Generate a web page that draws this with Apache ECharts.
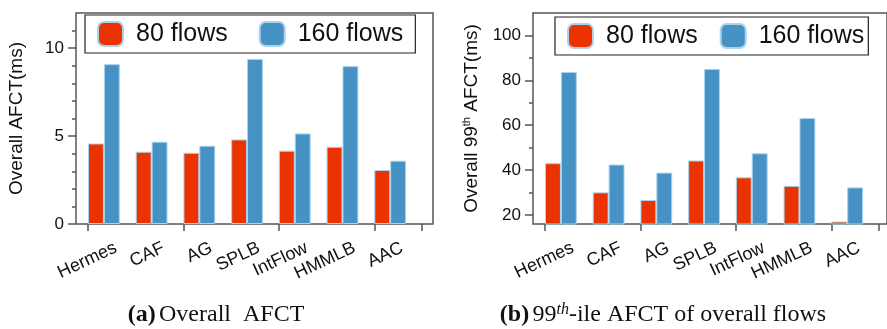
<!DOCTYPE html>
<html>
<head>
<meta charset="utf-8">
<script src="https://cdn.jsdelivr.net/npm/echarts@6/dist/echarts.min.js"></script>
<style>
  html, body { margin: 0; padding: 0; background: #fff; }
  #chart { width: 887px; height: 329px; }
</style>
</head>
<body>
<div id="chart"></div>
<script>
// Load balancing schemes compared in both panels
const categories = ['Hermes', 'CAF', 'AG', 'SPLB', 'IntFlow', 'HMMLB', 'AAC'];
const seriesNames = ['80 flows', '160 flows'];

// (a) overall average flow completion time, ms
const afct80 = [4.58, 4.11, 4.05, 4.81, 4.17, 4.39, 3.07];
const afct160 = [9.09, 4.68, 4.45, 9.39, 5.15, 8.98, 3.60];

// (b) 99th percentile flow completion time, ms
const p99Afct80 = [43.1, 30.1, 26.7, 44.3, 36.8, 33.0, 17.1];
const p99Afct160 = [83.7, 42.5, 38.9, 85.1, 47.5, 63.2, 32.3];

// Axis ticks
const afctLabelTicks = [0, 5, 10];
const afctMinorTicks = [0, 1, 2, 3, 4, 5, 6, 7, 8, 9, 10, 11];
const p99LabelTicks = [20, 40, 60, 80, 100];
const p99MinorTicks = [20, 30, 40, 50, 60, 70, 80, 90, 100];

const RED = '#ea3300';
const BLUE = '#4692c5';
const EDGE = '#abd3ec';
const AXIS = '#555555';
const SANS = '"Liberation Sans", Arial, Helvetica, sans-serif';
const SERIF = '"Liberation Serif", "Times New Roman", serif';

const chart = echarts.init(document.getElementById('chart'), null, { renderer: 'canvas' });

function frameGrid(left) {
  return { left: left, top: 13, width: 357, height: 211, show: true,
           borderColor: AXIS, borderWidth: 1.5, backgroundColor: 'transparent' };
}
function bandGrid(left) {
  return { left: left, top: 13, width: 334, height: 211, show: false };
}
function hiddenX(gridIndex) {
  return { type: 'value', gridIndex: gridIndex, show: false, min: 0, max: 1 };
}
function hiddenY(gridIndex) {
  return { type: 'value', gridIndex: gridIndex, show: false, min: 0, max: 1 };
}
// category axis carrying the bars and the band boundary ticks
function categoryX(gridIndex) {
  return {
    type: 'category', gridIndex: gridIndex, data: categories, boundaryGap: true,
    axisLine: { show: false },
    axisTick: { show: true, length: 7, alignWithLabel: false, lineStyle: { color: AXIS, width: 1.5 } },
    axisLabel: { show: false },
    splitLine: { show: false }
  };
}
// category axis that only writes the slanted scheme names
function nameX(gridIndex) {
  return {
    type: 'category', gridIndex: gridIndex, data: categories, boundaryGap: true,
    axisLine: { show: false }, axisTick: { show: false },
    axisLabel: { rotate: 25, fontSize: 18, fontFamily: SANS, color: '#111', margin: 23, interval: 0 },
    splitLine: { show: false }
  };
}
function labelY(gridIndex, min, max, ticks, name) {
  return {
    type: 'value', gridIndex: gridIndex, min: min, max: max, position: 'left',
    axisLine: { show: false },
    axisTick: { show: true, length: 8, customValues: ticks, lineStyle: { color: AXIS, width: 1.5 } },
    axisLabel: { customValues: ticks, fontSize: 17, fontFamily: SANS, color: '#111', margin: 12 },
    splitLine: { show: false },
    name: name, nameLocation: 'middle', nameRotate: 90, nameGap: 50,
    nameTextStyle: {
      fontFamily: SANS, fontSize: 19, color: '#111',
      rich: {
        a: { fontFamily: SANS, fontSize: 19, color: '#111', lineHeight: 22 },
        s: { fontFamily: SANS, fontSize: 11, color: '#111', lineHeight: 11, verticalAlign: 'top' }
      }
    }
  };
}
function minorY(gridIndex, min, max, ticks) {
  return {
    type: 'value', gridIndex: gridIndex, min: min, max: max, position: 'left', offset: 12,
    axisLine: { show: false },
    axisTick: { show: true, length: 4, customValues: ticks, lineStyle: { color: AXIS, width: 1.5 } },
    axisLabel: { show: false },
    splitLine: { show: false }
  };
}
function bars(name, color, values, axisIndex) {
  return {
    type: 'bar', name: name, data: values,
    xAxisIndex: axisIndex, yAxisIndex: axisIndex,
    barGap: '0%', barCategoryGap: '0%',
    itemStyle: { color: color, borderColor: EDGE, borderWidth: 1 },
    emphasis: { disabled: true }, animation: false
  };
}
// empty third slot so that each bar pair sits on the left of its category band
function slot(axisIndex) {
  return { type: 'bar', name: 'slot', data: [], xAxisIndex: axisIndex, yAxisIndex: axisIndex,
           barGap: '0%', barCategoryGap: '0%', animation: false, silent: true };
}
function legend(left, top, pad, gap) {
  return {
    data: seriesNames, left: left, top: top, orient: 'horizontal',
    padding: pad, itemGap: gap, itemWidth: 25, itemHeight: 24, icon: 'roundRect',
    borderColor: '#222', borderWidth: 1.2, backgroundColor: '#fff',
    selectedMode: false,
    textStyle: { fontFamily: SANS, fontSize: 25, color: '#111', lineHeight: 24, padding: [0, 0, 0, 8] }
  };
}

const option = {
  animation: false,
  backgroundColor: '#fff',
  grid: [frameGrid(76), bandGrid(88), frameGrid(533), bandGrid(545), bandGrid(92), bandGrid(549)],
  xAxis: [hiddenX(0), categoryX(1), hiddenX(2), categoryX(3), nameX(4), nameX(5)],
  yAxis: [
    labelY(0, 0, 12, afctLabelTicks, 'Overall AFCT(ms)'),
    minorY(1, 0, 12, afctMinorTicks),
    labelY(2, 16, 110, p99LabelTicks, '{a|Overall 99}{s|th}{a| AFCT(ms)}'),
    minorY(3, 16, 110, p99MinorTicks),
    hiddenY(4),
    hiddenY(5)
  ],
  legend: [legend(85, 15, [6, 12, 6, 12], 31), legend(555, 17, [6, 4, 6, 12], 22)],
  series: [
    bars(seriesNames[0], RED, afct80, 1),
    bars(seriesNames[1], BLUE, afct160, 1),
    slot(1),
    bars(seriesNames[0], RED, p99Afct80, 3),
    bars(seriesNames[1], BLUE, p99Afct160, 3),
    slot(3)
  ],
  graphic: [
    {
      type: 'text', x: 216, y: 315,
      style: {
        text: '{b|(a)} {n|Overall  AFCT}', align: 'center', verticalAlign: 'middle',
        rich: {
          b: { fontFamily: SERIF, fontSize: 24, fontWeight: 'bold', fill: '#111' },
          n: { fontFamily: SERIF, fontSize: 24, fill: '#111' }
        }
      }
    },
    {
      type: 'text', x: 663, y: 315,
      style: {
        text: '{b|(b)} {n|99}{i|th}{n|-ile AFCT of overall flows}', align: 'center', verticalAlign: 'middle',
        rich: {
          b: { fontFamily: SERIF, fontSize: 24, fontWeight: 'bold', fill: '#111', lineHeight: 26 },
          n: { fontFamily: SERIF, fontSize: 24, fill: '#111', lineHeight: 26 },
          i: { fontFamily: SERIF, fontSize: 16, fontStyle: 'italic', fill: '#111', lineHeight: 16, verticalAlign: 'top' }
        }
      }
    }
  ]
};

chart.setOption(option);
</script>
</body>
</html>
